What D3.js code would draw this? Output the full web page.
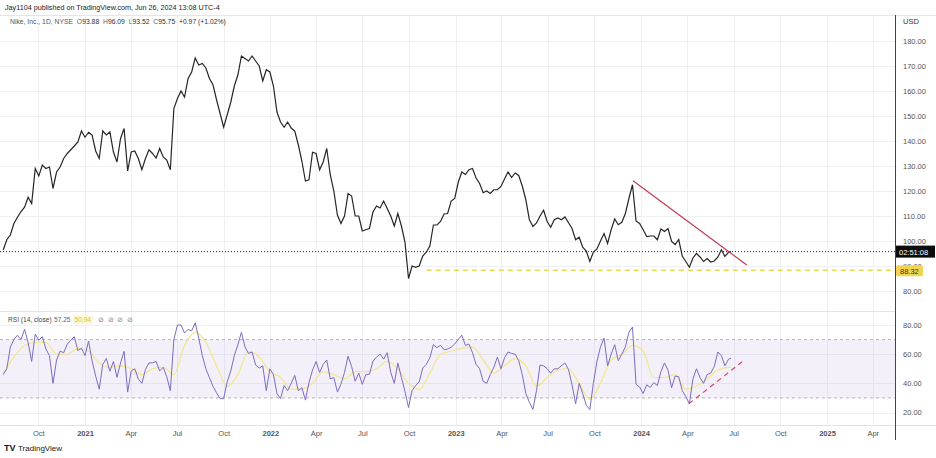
<!DOCTYPE html>
<html><head><meta charset="utf-8">
<script src="https://cdn.jsdelivr.net/npm/d3@7"></script>
<style>
body{margin:0;background:#fff}
svg{display:block}
text{font-family:"Liberation Sans",Arial,sans-serif;white-space:pre}
</style></head>
<body><svg id="c" width="936" height="458"></svg>
<script>
// ---------- DATA (weekly) ----------
const weekDates = [
"2020-07-24","2020-07-31","2020-08-07","2020-08-14","2020-08-21","2020-08-28","2020-09-04","2020-09-11","2020-09-18","2020-09-25",
"2020-10-02","2020-10-09","2020-10-16","2020-10-23","2020-10-30","2020-11-06","2020-11-13","2020-11-20","2020-11-27","2020-12-04",
"2020-12-11","2020-12-18","2020-12-25","2021-01-01","2021-01-08","2021-01-15","2021-01-22","2021-01-29","2021-02-05","2021-02-12",
"2021-02-19","2021-02-26","2021-03-05","2021-03-12","2021-03-19","2021-03-26","2021-04-02","2021-04-09","2021-04-16","2021-04-23",
"2021-04-30","2021-05-07","2021-05-14","2021-05-21","2021-05-28","2021-06-04","2021-06-11","2021-06-18","2021-06-25","2021-07-02",
"2021-07-09","2021-07-16","2021-07-23","2021-07-30","2021-08-06","2021-08-13","2021-08-20","2021-08-27","2021-09-03","2021-09-10",
"2021-09-17","2021-09-24","2021-10-01","2021-10-08","2021-10-15","2021-10-22","2021-10-29","2021-11-05","2021-11-12","2021-11-19",
"2021-11-26","2021-12-03","2021-12-10","2021-12-17","2021-12-24","2021-12-31","2022-01-07","2022-01-14","2022-01-21","2022-01-28",
"2022-02-04","2022-02-11","2022-02-18","2022-02-25","2022-03-04","2022-03-11","2022-03-18","2022-03-25","2022-04-01","2022-04-08",
"2022-04-15","2022-04-22","2022-04-29","2022-05-06","2022-05-13","2022-05-20","2022-05-27","2022-06-03","2022-06-10","2022-06-17",
"2022-06-24","2022-07-01","2022-07-08","2022-07-15","2022-07-22","2022-07-29","2022-08-05","2022-08-12","2022-08-19","2022-08-26",
"2022-09-02","2022-09-09","2022-09-16","2022-09-23","2022-09-30","2022-10-07","2022-10-14","2022-10-21","2022-10-28","2022-11-04",
"2022-11-11","2022-11-18","2022-11-25","2022-12-02","2022-12-09","2022-12-16","2022-12-23","2022-12-30","2023-01-06","2023-01-13",
"2023-01-20","2023-01-27","2023-02-03","2023-02-10","2023-02-17","2023-02-24","2023-03-03","2023-03-10","2023-03-17","2023-03-24",
"2023-03-31","2023-04-07","2023-04-14","2023-04-21","2023-04-28","2023-05-05","2023-05-12","2023-05-19","2023-05-26","2023-06-02",
"2023-06-09","2023-06-16","2023-06-23","2023-06-30","2023-07-07","2023-07-14","2023-07-21","2023-07-28","2023-08-04","2023-08-11",
"2023-08-18","2023-08-25","2023-09-01","2023-09-08","2023-09-15","2023-09-22","2023-09-29","2023-10-06","2023-10-13","2023-10-20",
"2023-10-27","2023-11-03","2023-11-10","2023-11-17","2023-11-24","2023-12-01","2023-12-08","2023-12-15","2023-12-22","2023-12-29",
"2024-01-05","2024-01-12","2024-01-19","2024-01-26","2024-02-02","2024-02-09","2024-02-16","2024-02-23","2024-03-01","2024-03-08",
"2024-03-15","2024-03-22","2024-03-29","2024-04-05","2024-04-12","2024-04-19","2024-04-26","2024-05-03","2024-05-10","2024-05-17",
"2024-05-24","2024-05-31","2024-06-07","2024-06-14","2024-06-21","2024-06-26"];

const closes = [
96.4,100.5,102.4,107,109.5,111.8,113.5,117.5,115,129,
126,130.4,129,129.6,121,127.6,129.6,133,135,136.5,
138,139.6,144,141.5,143.5,142.4,136,133,144,142.4,
143.6,135.6,131.6,141,145,128,135.6,136,133,128.5,
133,136.5,135,133.2,137,133.6,132.4,128.5,153,157,
160,157.6,165,167.6,173.2,170.4,171,169.2,165,162.5,
156.5,151,145.5,150.5,155.5,162,166.4,174,173,172,
174,172,170,164,168.5,167.6,162,151.6,147.6,145.5,
147.6,145.2,144,138.5,132,124,124.5,135.5,135,128.5,
131.6,137,126.4,120,110.4,107,110,119,118,110,
110,104,104.5,105,111.6,114,113.2,116,113,110,
106,111,106,99.6,85,90,89.5,90,94,95.5,
98,106.4,106.4,107.8,110.8,111,116,117,123.6,127.6,
126.6,128.5,129,125.2,123,119.3,120,119,120.5,120.5,
121.8,124.8,127.6,125.4,127.2,126.2,122,116.5,108.5,105.8,
107.2,110,112.3,107.8,105.5,108.5,109.2,108.5,109.6,107.3,
105,100.5,101.5,97.5,96,91.8,95.6,96.8,100,103,
99,104.5,108.8,106.5,107.5,111,117,122.5,108,107,
104.5,101.8,102,102,100.5,104.8,103.8,105,99.8,98.6,
100.6,94,91.8,89.5,93.2,95,93.6,91.8,93,91.6,
92,93.5,96.5,93.8,95.5,95.75];

const rsiValues = [
46,50,64.8,70,73,70,77,68,55,73.8,
69.5,72,63.5,59,40,56,62.1,61,66.9,69.5,
72,62.5,64,59,69,55.2,45,36,53,57,
48.3,55,44.1,54,62,34,48.5,50,43,40,
49.5,54,54,55,48.5,51,44.5,35,70,80,
80,74.5,77,76,81.5,71,59,50,44,38,
33.5,29.5,29.5,41,48.5,59,66.5,75,65,60.5,
61.5,52.5,50.5,52,35,50,46,33,29.5,38.5,
35,40,45.5,35,37,28.5,40.5,49,55,47.5,
53,56,43,44,34,39.5,47.5,58.6,51.5,41.4,
47,39.3,46,46.2,55.2,58,60,56.6,61,47.5,
40,54,44,34.5,23.4,35,38.5,41,50.5,53,
57.5,66.5,64.5,66,63,63.5,64.8,67,70,73,
66,66.9,61,53.1,50,41.4,40,46,51,58,
50,57.5,61.5,60.5,60,55.5,46,33,27,22.1,
35,52.5,52,50,47,50,50,52,54,49.5,
39,26,40,33,25,22,40,55,65,71,
52,60,66.5,55.5,60,65,75,78.6,39.3,37.5,
33,39,37.2,40.5,38.5,48,54,49,37,45,
44.5,35,31,26,43,50,44,40,46,47,
51.5,61.5,59,52,56.5,57.25];

const maDates = [
"2020-07-24","2020-08-14","2020-09-04","2020-09-25","2020-10-16","2020-11-06","2020-11-27","2020-12-18","2021-01-08","2021-01-29",
"2021-02-19","2021-03-12","2021-04-02","2021-04-23","2021-05-14","2021-06-04","2021-06-25","2021-07-16","2021-08-06","2021-08-27",
"2021-09-17","2021-10-08","2021-10-29","2021-11-19","2021-12-10","2021-12-31","2022-01-21","2022-02-11","2022-03-04","2022-03-25",
"2022-04-15","2022-05-06","2022-05-27","2022-06-17","2022-07-08","2022-07-29","2022-08-19","2022-09-09","2022-09-30","2022-10-21",
"2022-11-11","2022-12-02","2022-12-23","2023-01-13","2023-02-03","2023-02-24","2023-03-17","2023-04-07","2023-04-28","2023-05-19",
"2023-06-09","2023-06-30","2023-07-21","2023-08-11","2023-09-01","2023-09-22","2023-10-13","2023-11-03","2023-11-24","2023-12-15",
"2024-01-05","2024-01-26","2024-02-16","2024-03-08","2024-03-29","2024-04-19","2024-05-10","2024-05-31","2024-06-21","2024-06-26"];
const maValues = [
47,58,66,68,68,60,60,64,62,54,
51,52,50,46,50,51,46,66,75,68,
52,38,46,62,58,48,44,36,36,40,
48,46,43,48,48,50,55,50,40,36,
47,60,62,64,65,56,47,52,57,52,
38,44,49,50,40,29,40,56,60,66,
62,44,44,46,36,38,43,49,51,50.94];

const priceTicks = [80,90,100,110,120,130,140,150,160,170,180];
const rsiTicks = [20,40,60,80];
const rsiBands = [70,30];
const lastPrice = 95.75;
const supportPrice = 88.32;
const supportStart = "2022-11-05";
const trendDates = ["2023-12-16","2024-07-27"];
const trendPrices = [124.1, 90.4];
const rsiTrendDates = ["2024-04-04","2024-07-24"];
const rsiTrendValues = [26, 56.5];
const headerText = "Jay1104 published on TradingView.com, Jun 26, 2024 13:08 UTC-4";
const symbolText = "Nike, Inc., 1D, NYSE";
const ohlcParts = [["O","93.88"],["H","96.09"],["L","93.52"],["C","95.75"],["","+0.97 (+1.02%)"]];
const countdownText = "02:51:08";

// ---------- LAYOUT ----------
const svg = d3.select("#c");
const plotR = 895, mainT = 15, mainB = 311, rsiT = 312, rsiB = 425;
const parse = d3.timeParse("%Y-%m-%d");
const x = d3.scaleTime().domain([new Date(2021,0,1), new Date(2025,0,1)]).range([85, 827]);
const yP = d3.scaleLinear().domain([80,180]).range([291,41]);
const yR = d3.scaleLinear().domain([20,80]).range([412.5,325]);
const timeTicks = d3.timeMonth.range(new Date(2020,9,1), new Date(2025,4,2), 3);

const defs = svg.append("defs");
defs.append("clipPath").attr("id","cm").append("rect").attr("x",0).attr("y",mainT).attr("width",plotR).attr("height",mainB-mainT);
defs.append("clipPath").attr("id","cr").append("rect").attr("x",0).attr("y",rsiT).attr("width",plotR).attr("height",rsiB-rsiT);

// grid
const grid = svg.append("g").attr("stroke","#eef0f3").attr("stroke-width",1);
grid.selectAll("line.v").data(timeTicks).join("line")
  .attr("x1",d=>Math.round(x(d))+0.5).attr("x2",d=>Math.round(x(d))+0.5)
  .attr("y1",mainT).attr("y2",rsiB);
grid.selectAll("line.h").data(priceTicks).join("line")
  .attr("x1",0).attr("x2",plotR).attr("y1",d=>Math.round(yP(d))+0.5).attr("y2",d=>Math.round(yP(d))+0.5);
grid.selectAll("line.r").data(rsiTicks).join("line")
  .attr("x1",0).attr("x2",plotR).attr("y1",d=>Math.round(yR(d))+0.5).attr("y2",d=>Math.round(yR(d))+0.5);

// pane borders
svg.append("line").attr("x1",0).attr("x2",936).attr("y1",mainT+0.5).attr("y2",mainT+0.5).attr("stroke","#e3e5ea");
svg.append("line").attr("x1",0).attr("x2",plotR).attr("y1",mainB+0.5).attr("y2",mainB+0.5).attr("stroke","#e0e3eb");
svg.append("line").attr("x1",0).attr("x2",936).attr("y1",rsiB+0.5).attr("y2",rsiB+0.5).attr("stroke","#e0e3eb");

// ---------- MAIN PANE ----------
const main = svg.append("g").attr("clip-path","url(#cm)");
const priceData = weekDates.map((d,i)=>({d:parse(d), v:closes[i]}));
main.append("line").attr("x1",0).attr("x2",plotR)
  .attr("y1",yP(lastPrice)).attr("y2",yP(lastPrice))
  .attr("stroke","#222").attr("stroke-width",1).attr("stroke-dasharray","1,2");
main.append("line").attr("x1",x(parse(supportStart))).attr("x2",plotR)
  .attr("y1",yP(supportPrice)).attr("y2",yP(supportPrice))
  .attr("stroke","#e3dc55").attr("stroke-width",1.5).attr("stroke-dasharray","5,4");
main.append("path").datum(priceData)
  .attr("fill","none").attr("stroke","#262626").attr("stroke-width",1.2).attr("stroke-linejoin","miter")
  .attr("d", d3.line().x(d=>x(d.d)).y(d=>yP(d.v)));
main.append("line")
  .attr("x1",x(parse(trendDates[0]))).attr("y1",yP(trendPrices[0]))
  .attr("x2",x(parse(trendDates[1]))).attr("y2",yP(trendPrices[1]))
  .attr("stroke","#c23a55").attr("stroke-width",1.2);

// header
svg.append("text").attr("x",5).attr("y",10).attr("font-size",7.2).attr("fill","#222").text(headerText);
const sym = svg.append("text").attr("x",10).attr("y",24).attr("font-size",6.8).attr("fill","#555");
sym.append("tspan").text(symbolText + "  ");
ohlcParts.forEach(p=>{
  sym.append("tspan").attr("fill","#666").text(p[0]);
  sym.append("tspan").attr("fill","#333").text(p[1] + "  ");
});

// ---------- RSI PANE ----------
const rsiG = svg.append("g").attr("clip-path","url(#cr)");
rsiG.append("rect").attr("x",0).attr("width",plotR)
  .attr("y",yR(rsiBands[0])).attr("height",yR(rsiBands[1])-yR(rsiBands[0]))
  .attr("fill","#7e57c2").attr("fill-opacity",0.09);
rsiG.selectAll("line.band").data(rsiBands).join("line")
  .attr("x1",0).attr("x2",plotR).attr("y1",d=>yR(d)).attr("y2",d=>yR(d))
  .attr("stroke","#a3a3ad").attr("stroke-width",0.8).attr("stroke-dasharray","3,3");
const maData = maDates.map((d,i)=>({d:parse(d), v:maValues[i]}));
rsiG.append("path").datum(maData)
  .attr("fill","none").attr("stroke","#f3e58a").attr("stroke-width",1.2)
  .attr("d", d3.line().curve(d3.curveMonotoneX).x(d=>x(d.d)).y(d=>yR(d.v)));
const rsiData = weekDates.map((d,i)=>({d:parse(d), v:rsiValues[i]}));
rsiG.append("path").datum(rsiData)
  .attr("fill","none").attr("stroke","#7e6cc0").attr("stroke-width",1).attr("stroke-linejoin","round")
  .attr("d", d3.line().x(d=>x(d.d)).y(d=>yR(d.v)));
rsiG.append("line")
  .attr("x1",x(parse(rsiTrendDates[0]))).attr("y1",yR(rsiTrendValues[0]))
  .attr("x2",x(parse(rsiTrendDates[1]))).attr("y2",yR(rsiTrendValues[1]))
  .attr("stroke","#d9456a").attr("stroke-width",1.2).attr("stroke-dasharray","5,4");

// RSI legend
const lg = svg.append("g").attr("font-size",6.6);
lg.append("text").attr("x",8).attr("y",322).attr("fill","#444").text("RSI (14, close)");
lg.append("text").attr("x",54).attr("y",322).attr("fill","#666").text(rsiValues[rsiValues.length-1].toFixed(2));
lg.append("rect").attr("x",73).attr("y",315.5).attr("width",20).attr("height",8.5).attr("fill","#fbf8d8");
lg.append("text").attr("x",74.5).attr("y",322).attr("fill","#d8c52a").text(maValues[maValues.length-1].toFixed(2));
lg.append("text").attr("x",98).attr("y",322).attr("fill","#888").text("⊘  ⊘  ⊘  ⊘");

// ---------- AXES ----------
const axP = svg.append("g").attr("transform",`translate(${plotR},0)`)
  .call(d3.axisRight(yP).tickValues(priceTicks).tickSize(0).tickPadding(8).tickFormat(d3.format(".2f")));
const axR = svg.append("g").attr("transform",`translate(${plotR},0)`)
  .call(d3.axisRight(yR).tickValues(rsiTicks).tickSize(0).tickPadding(8).tickFormat(d3.format(".2f")));
[axP,axR].forEach(a=>{a.select(".domain").remove(); a.selectAll("text").attr("font-size",7.5).attr("fill","#555").attr("font-family","Liberation Sans, Arial, sans-serif");});

const fmt = d=> d.getMonth()===0 ? d3.timeFormat("%Y")(d) : d3.timeFormat("%b")(d);
const axT = svg.append("g").attr("transform",`translate(0,${rsiB})`)
  .call(d3.axisBottom(x).tickValues(timeTicks).tickSize(0).tickPadding(6).tickFormat(fmt));
axT.select(".domain").remove();
axT.selectAll("text").attr("font-size",7.5).attr("fill","#555").attr("font-family","Liberation Sans, Arial, sans-serif")
  .attr("font-weight",d=>d.getMonth()===0?"bold":"normal");

// right axis line
svg.append("line").attr("x1",plotR+0.5).attr("x2",plotR+0.5).attr("y1",mainT).attr("y2",440)
  .attr("stroke","#444").attr("stroke-width",1);
svg.append("text").attr("x",903).attr("y",24).attr("font-size",7.5).attr("fill","#333").text("USD");

// price labels
svg.append("rect").attr("x",plotR+1).attr("y",yP(lastPrice)-6).attr("width",39).attr("height",12).attr("fill","#0c0c0c");
svg.append("text").attr("x",plotR+4).attr("y",yP(lastPrice)+3).attr("font-size",7.5).attr("fill","#fff").text(countdownText);
svg.append("rect").attr("x",plotR+1).attr("y",yP(supportPrice)-5).attr("width",27).attr("height",11).attr("rx",2).attr("fill","#f2d34f");
svg.append("text").attr("x",plotR+5).attr("y",yP(supportPrice)+3.5).attr("font-size",7.5).attr("fill","#333").text(supportPrice.toFixed(2));

// footer logo
svg.append("text").attr("x",4).attr("y",451).attr("font-size",9).attr("font-weight","bold").attr("fill","#131722").text("TV");
svg.append("text").attr("x",18).attr("y",451).attr("font-size",8).attr("fill","#131722").text("TradingView");
</script></body></html>
